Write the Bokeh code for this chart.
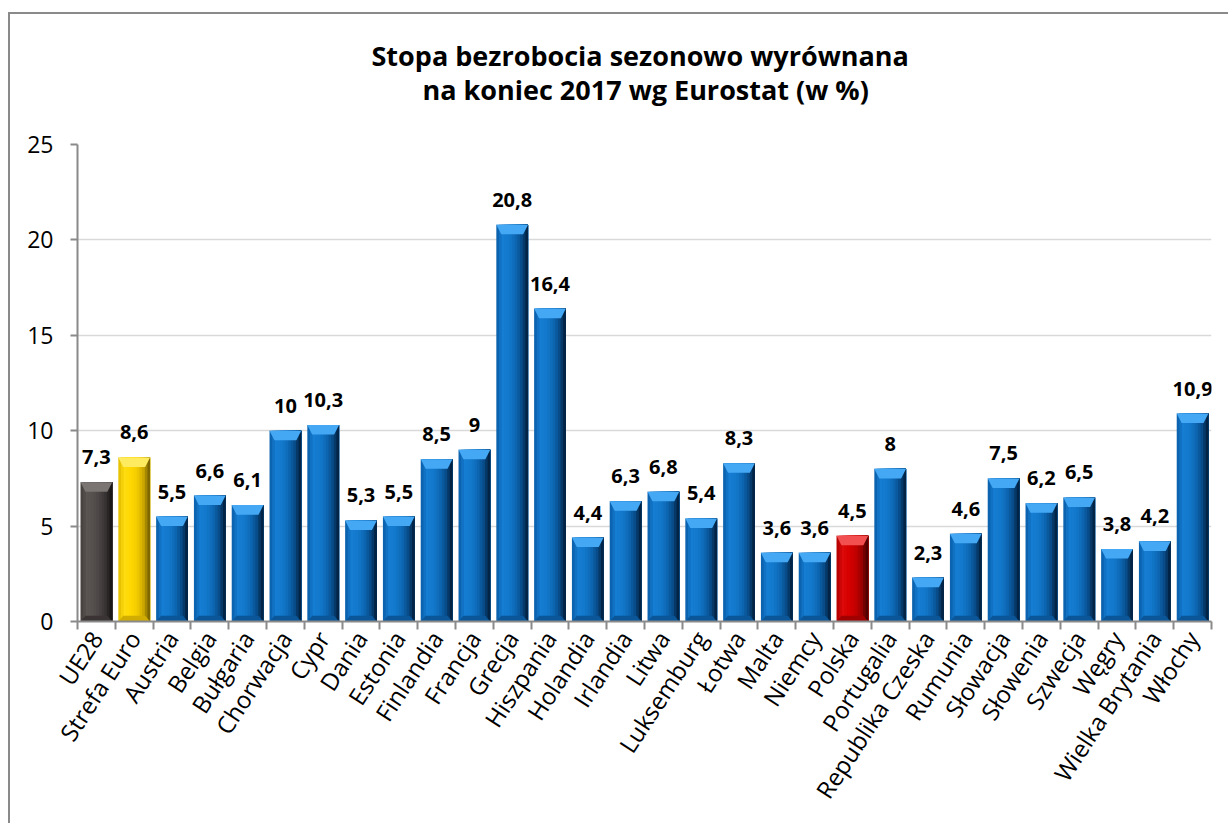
from bokeh.plotting import figure
from bokeh.models import ColumnDataSource, FixedTicker, LabelSet, Title, Range1d
from bokeh.core.properties import value
from bokeh.embed import file_html
from bokeh.resources import INLINE

# ---- data -------------------------------------------------------------
categories = ["UE28", "Strefa Euro", "Austria", "Belgia", "Bułgaria", "Chorwacja",
              "Cypr", "Dania", "Estonia", "Finlandia", "Francja", "Grecja",
              "Hiszpania", "Holandia", "Irlandia", "Litwa", "Luksemburg", "Łotwa",
              "Malta", "Niemcy", "Polska", "Portugalia", "Republika Czeska",
              "Rumunia", "Słowacja", "Słowenia", "Szwecja", "Węgry",
              "Wielka Brytania", "Włochy"]
values = [7.3, 8.6, 5.5, 6.6, 6.1, 10, 10.3, 5.3, 5.5, 8.5, 9, 20.8, 16.4, 4.4,
          6.3, 6.8, 5.4, 8.3, 3.6, 3.6, 4.5, 8, 2.3, 4.6, 7.5, 6.2, 6.5, 3.8,
          4.2, 10.9]
y_ticks = [0, 5, 10, 15, 20, 25]
title_lines = ["Stopa bezrobocia sezonowo wyrównana",
               "na koniec 2017 wg Eurostat (w %)"]

# ---- styles -----------------------------------------------------------
FONT = "Open Sans"
# horizontal gradient stops (left -> right), top bevel, bottom bevel
PALETTES = {
    "blue":   dict(grad=["#0a5ca6", "#157dd2", "#1278cb", "#0e69b6", "#084b88", "#021a33"],
                   top="#44a8f4", bottom="#0a5698"),
    "gray":   dict(grad=["#433e3c", "#5a5452", "#55504e", "#4a4543", "#353130", "#121010"],
                   top="#7a7472", bottom="#3a3534"),
    "yellow": dict(grad=["#e0bc00", "#ffdc10", "#ffd800", "#f2cb00", "#c9a500", "#6a5600"],
                   top="#ffeb60", bottom="#d0ad00"),
    "red":    dict(grad=["#b00000", "#dc0a0a", "#d60000", "#c40000", "#950000", "#3c0000"],
                   top="#f25050", bottom="#a00000"),
}
SPECIAL = {"UE28": "gray", "Strefa Euro": "yellow", "Polska": "red"}


def hex2rgb(h):
    return tuple(int(h[i:i + 2], 16) for i in (1, 3, 5))


def interp(stops, f):
    pos = f * (len(stops) - 1)
    i = min(int(pos), len(stops) - 2)
    t = pos - i
    a, b = hex2rgb(stops[i]), hex2rgb(stops[i + 1])
    return "#%02x%02x%02x" % tuple(round(a[k] + (b[k] - a[k]) * t) for k in range(3))


n = len(categories)
centers = [i + 0.5 for i in range(n)]
labels = [f"{v:g}".replace(".", ",") for v in values]
pals = [PALETTES[SPECIAL.get(c, "blue")] for c in categories]

HW = 0.42          # half bar width (category units)
NSTRIP = 12        # gradient strips per bar
DX, DY, DYB = 0.13, 0.5, 0.3

strips = dict(left=[], right=[], top=[], color=[])
bev = {k: dict(xs=[], ys=[], color=[]) for k in ["bottom", "top"]}
for xc, t, pal in zip(centers, values, pals):
    L, R = xc - HW, xc + HW
    w = (R - L) / NSTRIP
    for j in range(NSTRIP):          # each strip runs to the right edge -> no seams
        strips["left"].append(L + j * w)
        strips["right"].append(R)
        strips["top"].append(t)
        strips["color"].append(interp(pal["grad"], (j + 0.5) / NSTRIP))
    bev["bottom"]["xs"].append([L, R, R - DX, L + DX])
    bev["bottom"]["ys"].append([0, 0, DYB, DYB])
    bev["bottom"]["color"].append(pal["bottom"])
    bev["top"]["xs"].append([L, R, R - DX, L + DX])
    bev["top"]["ys"].append([t, t, t - DY, t - DY])
    bev["top"]["color"].append(pal["top"])

src = ColumnDataSource(dict(x=centers, top=values, label=labels))

W, H = 1228, 823
p = figure(width=W, height=H, x_range=Range1d(0, n), y_range=Range1d(0, 25),
           output_backend="svg", toolbar_location=None, title=None,
           min_border_left=77, min_border_right=17, min_border_top=144,
           min_border_bottom=202)
p.outline_line_color = None
p.background_fill_color = "white"
p.border_fill_color = None
# outer chart-area border (left and top edges; the rest lies outside the view)
p.styles = {"background": "linear-gradient(#8a8a8a,#8a8a8a) 8px 12px / 2px 100% no-repeat, "
                          "linear-gradient(#8a8a8a,#8a8a8a) 8px 12px / 100% 2px no-repeat, "
                          "white"}

p.quad(left="left", right="right", bottom=0, top="top", fill_color="color",
       line_color=None, source=ColumnDataSource(strips))
for k in ["bottom", "top"]:
    p.patches(xs="xs", ys="ys", fill_color="color", line_color=None,
              source=ColumnDataSource(bev[k]))

p.add_layout(LabelSet(x="x", y="top", text="label", source=src, y_offset=18,
                      text_align="center", text_baseline="alphabetic",
                      text_font=value(FONT), text_font_style="bold",
                      text_font_size="20px", text_color="black"))

# axes
xa = p.xaxis[0]
xa.ticker = FixedTicker(ticks=centers, minor_ticks=list(range(n + 1)))
xa.major_label_overrides = {c: name for c, name in zip(centers, categories)}
xa.major_label_orientation = 0.99
xa.major_label_text_font = FONT
xa.major_label_text_font_size = "24px"
xa.major_label_text_color = "black"
xa.major_tick_line_color = None
xa.major_tick_out = 8
xa.major_tick_in = 0
xa.minor_tick_out = 8
xa.minor_tick_in = 0
xa.minor_tick_line_color = "#8a8a8a"
xa.minor_tick_line_width = 2
xa.axis_line_color = "#8a8a8a"
xa.axis_line_width = 2
xa.major_label_standoff = 4

ya = p.yaxis[0]
ya.ticker = FixedTicker(ticks=y_ticks, minor_ticks=[])
ya.major_label_text_font = FONT
ya.major_label_text_font_size = "23px"
ya.major_label_text_color = "black"
ya.major_tick_out = 7
ya.major_tick_in = 0
ya.major_tick_line_color = "#8a8a8a"
ya.major_tick_line_width = 2
ya.axis_line_color = "#8a8a8a"
ya.axis_line_width = 2
ya.major_label_standoff = 17

p.xgrid.visible = False
p.ygrid.ticker = FixedTicker(ticks=y_ticks)
p.ygrid.grid_line_color = "#d9d9d9"
p.ygrid.grid_line_width = 1.5

# two title lines: second line sits nearest the plot,
# first line is pulled down over it with a negative standoff
p.add_layout(Title(text=title_lines[1], align="left", offset=345, text_font=FONT,
                   text_font_style="bold", text_font_size="27px",
                   text_color="black", vertical_align="bottom", standoff=74), "above")
p.add_layout(Title(text=title_lines[0], align="left", offset=294, text_font=FONT,
                   text_font_style="bold", text_font_size="27px",
                   text_color="black", vertical_align="bottom", standoff=-84), "above")

open("out.html", "w").write(file_html(p, INLINE))
